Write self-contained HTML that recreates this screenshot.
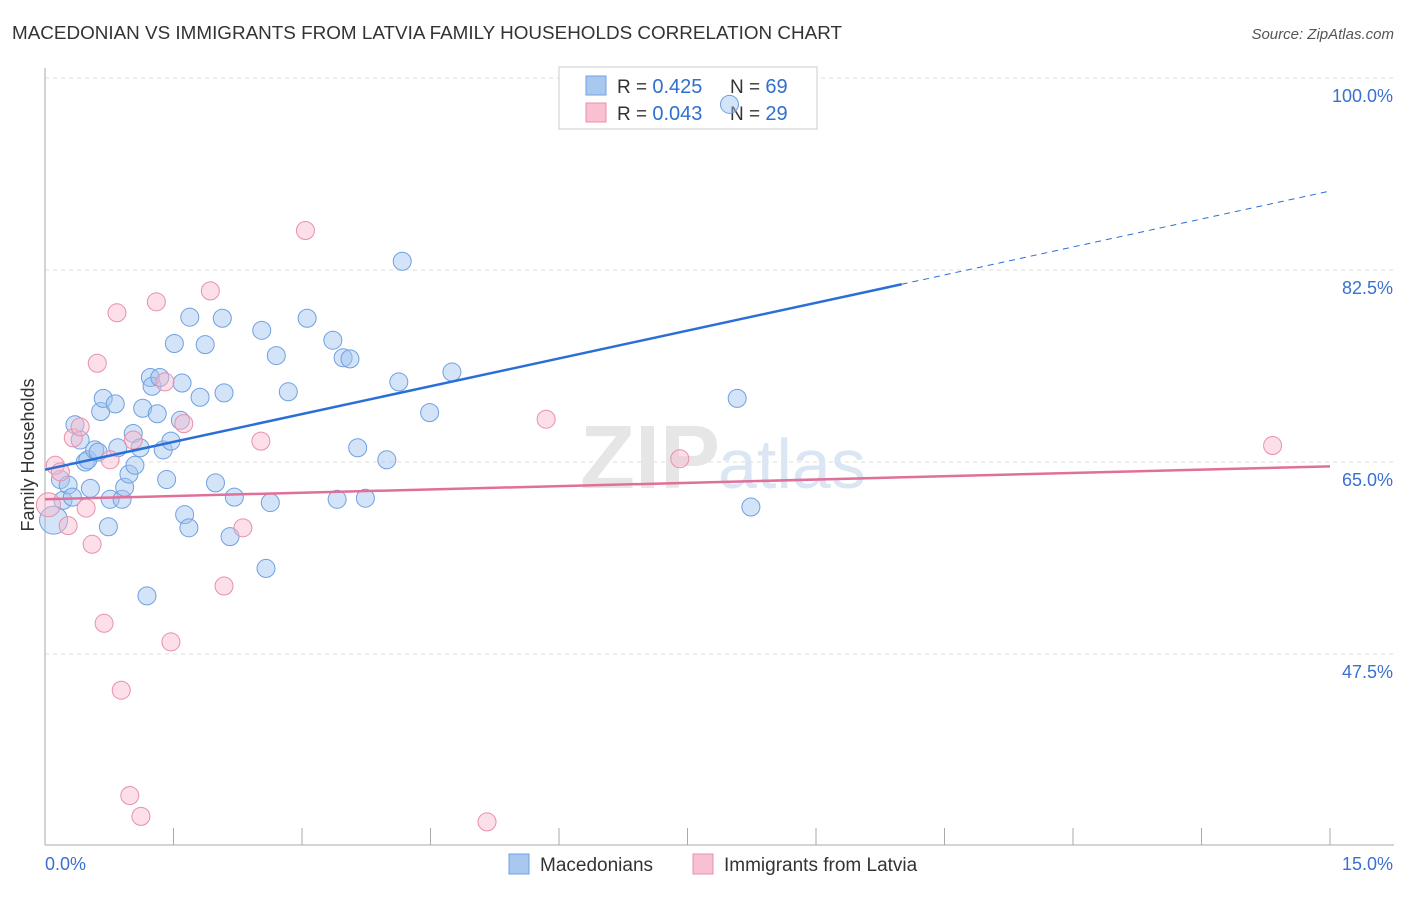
<!DOCTYPE html>
<html><head><meta charset="utf-8"><style>
body{margin:0;background:#fff;font-family:"Liberation Sans",sans-serif}
svg text{font-family:"Liberation Sans",sans-serif}
</style></head><body>
<svg id="chart" width="1406" height="892">
<text x="12" y="39" font-size="18" fill="#333" textLength="830" lengthAdjust="spacingAndGlyphs">MACEDONIAN VS IMMIGRANTS FROM LATVIA FAMILY HOUSEHOLDS CORRELATION CHART</text>
<text x="1394" y="39" font-size="15" fill="#555" font-style="italic" text-anchor="end">Source: ZipAtlas.com</text>
<g id="grid"></g>
<g id="axes"></g>
<text x="720" y="488" font-size="90" fill="#e6e6e6" text-anchor="end" font-family="Liberation Serif" font-weight="bold">ZIP</text>
<text x="718" y="488" font-size="70" fill="#dbe6f5">atlas</text>
<g>
<rect x="559" y="67" width="258" height="62" fill="#fff" stroke="#ccc"/>
<rect x="586" y="76" width="20" height="19" fill="#a9c8f0" stroke="#6fa0e0"/>
<rect x="586" y="103" width="20" height="19" fill="#f8c0d0" stroke="#e890aa"/>
<text x="617" y="93" font-size="19" fill="#333">R = <tspan fill="#2f6fd0" font-size="20">0.425</tspan></text>
<text x="730" y="93" font-size="19" fill="#333">N = <tspan fill="#2f6fd0" font-size="20">69</tspan></text>
<text x="617" y="120" font-size="19" fill="#333">R = <tspan fill="#2f6fd0" font-size="20">0.043</tspan></text>
<text x="730" y="120" font-size="19" fill="#333">N = <tspan fill="#2f6fd0" font-size="20">29</tspan></text>
</g>
<g id="pts"></g>
<g id="lines"></g>
<text x="34" y="455" font-size="18" fill="#333" text-anchor="middle" transform="rotate(-90 34 455)">Family Households</text>
<g>
<rect x="509" y="854" width="20" height="20" fill="#a9c8f0" stroke="#6fa0e0"/>
<text x="540" y="871" font-size="19" fill="#333">Macedonians</text>
<rect x="693" y="854" width="20" height="20" fill="#f8c0d0" stroke="#e890aa"/>
<text x="724" y="871" font-size="19" fill="#333">Immigrants from Latvia</text>
</g>
</svg>
<script>
const yTicks=[47.5,65.0,82.5,100.0];
const xTickLabels=["0.0%","15.0%"];
const blueX=[0.10,0.18,0.21,0.27,0.32,0.35,0.41,0.47,0.50,0.53,0.58,0.62,0.65,0.68,0.74,0.76,0.82,0.85,0.90,0.93,0.98,1.03,1.05,1.11,1.14,1.19,1.23,1.25,1.31,1.34,1.38,1.42,1.47,1.51,1.58,1.60,1.63,1.68,1.69,1.81,1.87,1.99,2.07,2.09,2.16,2.21,2.53,2.58,2.63,2.70,2.84,3.06,3.36,3.41,3.48,3.56,3.65,3.74,3.99,4.13,4.17,4.49,4.75,7.99,8.08,8.24];
const blueY=[59.7,63.4,61.5,62.9,61.8,68.4,67.0,65.0,65.2,62.6,66.1,65.9,69.6,70.8,59.1,61.6,70.3,66.3,61.6,62.7,63.9,67.6,64.7,66.3,69.9,52.8,72.7,71.9,69.4,72.7,66.1,63.4,66.9,75.8,68.8,72.2,60.2,59.0,78.2,70.9,75.7,63.1,78.1,71.3,58.2,61.8,77.0,55.3,61.3,74.7,71.4,78.1,76.1,61.6,74.5,74.4,66.3,61.7,65.2,72.3,83.3,69.5,73.2,97.6,70.8,60.9];
const pinkX=[0.04,0.12,0.18,0.27,0.33,0.41,0.48,0.55,0.61,0.69,0.76,0.84,0.89,0.99,1.03,1.12,1.30,1.40,1.47,1.62,1.93,2.09,2.31,2.52,3.04,5.16,5.85,7.41,14.33];
const pinkY=[61.1,64.7,64.1,59.2,67.2,68.2,60.8,57.5,74.0,50.3,65.2,78.6,44.2,34.6,67.0,32.7,79.6,72.3,48.6,68.5,80.6,53.7,59.0,66.9,86.1,32.2,68.9,65.3,66.5];
const blueTrend=[0,64.3,10,81.2,15,89.7];
const pinkTrend=[0,61.6,15,64.6];
const NS="http://www.w3.org/2000/svg";
const X=v=>45+v/15*1285, Y=v=>462-(v-65)*192/17.5;
function mk(t,a,p){const e=document.createElementNS(NS,t);for(const k in a)e.setAttribute(k,a[k]);p.appendChild(e);return e;}
const grid=document.getElementById('grid'),axes=document.getElementById('axes'),pts=document.getElementById('pts'),lines=document.getElementById('lines');
yTicks.forEach(t=>{
 const l=mk('line',{x1:45,x2:1394,y1:Y(t),y2:Y(t),stroke:'#ddd','stroke-dasharray':'4 4'},grid);
 
 
 const tx=mk('text',{x:1393,y:Y(t)+24,'font-size':18,fill:'#3a70d0','text-anchor':'end'},axes);
 tx.textContent=t.toFixed(1)+'%';
 
 
});
mk('line',{x1:45,x2:45,y1:68,y2:845,stroke:'#aaa'},axes);
mk('line',{x1:45,x2:1394,y1:845,y2:845,stroke:'#aaa'},axes);
for(let i=0;i<=10;i++){mk('line',{x1:X(i*1.5),x2:X(i*1.5),y1:828,y2:845,stroke:'#aaa'},axes);}
const xl0=mk('text',{x:45,y:870,'font-size':18,fill:'#3a70d0'},axes);xl0.textContent=xTickLabels[0];


const xl1=mk('text',{x:1393,y:870,'font-size':18,fill:'#3a70d0','text-anchor':'end'},axes);xl1.textContent=xTickLabels[1];


blueX.forEach((v,i)=>{const c=mk('circle',{cx:X(v),cy:Y(blueY[i]),r:i==0?14:9,fill:'rgba(160,196,240,0.45)',stroke:'#6fa0e0','stroke-width':1},pts);
 
 });
pinkX.forEach((v,i)=>{const c=mk('circle',{cx:X(v),cy:Y(pinkY[i]),r:i==0?12:9,fill:'rgba(248,184,204,0.45)',stroke:'#e890aa','stroke-width':1},pts);
 
 });
const b1=mk('line',{x1:X(blueTrend[0]),y1:Y(blueTrend[1]),x2:X(blueTrend[2]),y2:Y(blueTrend[3]),stroke:'#2a6fd6','stroke-width':2.5},lines);


const b2=mk('line',{x1:X(blueTrend[2]),y1:Y(blueTrend[3]),x2:X(blueTrend[4]),y2:Y(blueTrend[5]),stroke:'#2a6fd6','stroke-width':1,'stroke-dasharray':'6 5'},lines);


const p1=mk('line',{x1:X(pinkTrend[0]),y1:Y(pinkTrend[1]),x2:X(pinkTrend[2]),y2:Y(pinkTrend[3]),stroke:'#e0709a','stroke-width':2.5},lines);


</script>
</body></html>
